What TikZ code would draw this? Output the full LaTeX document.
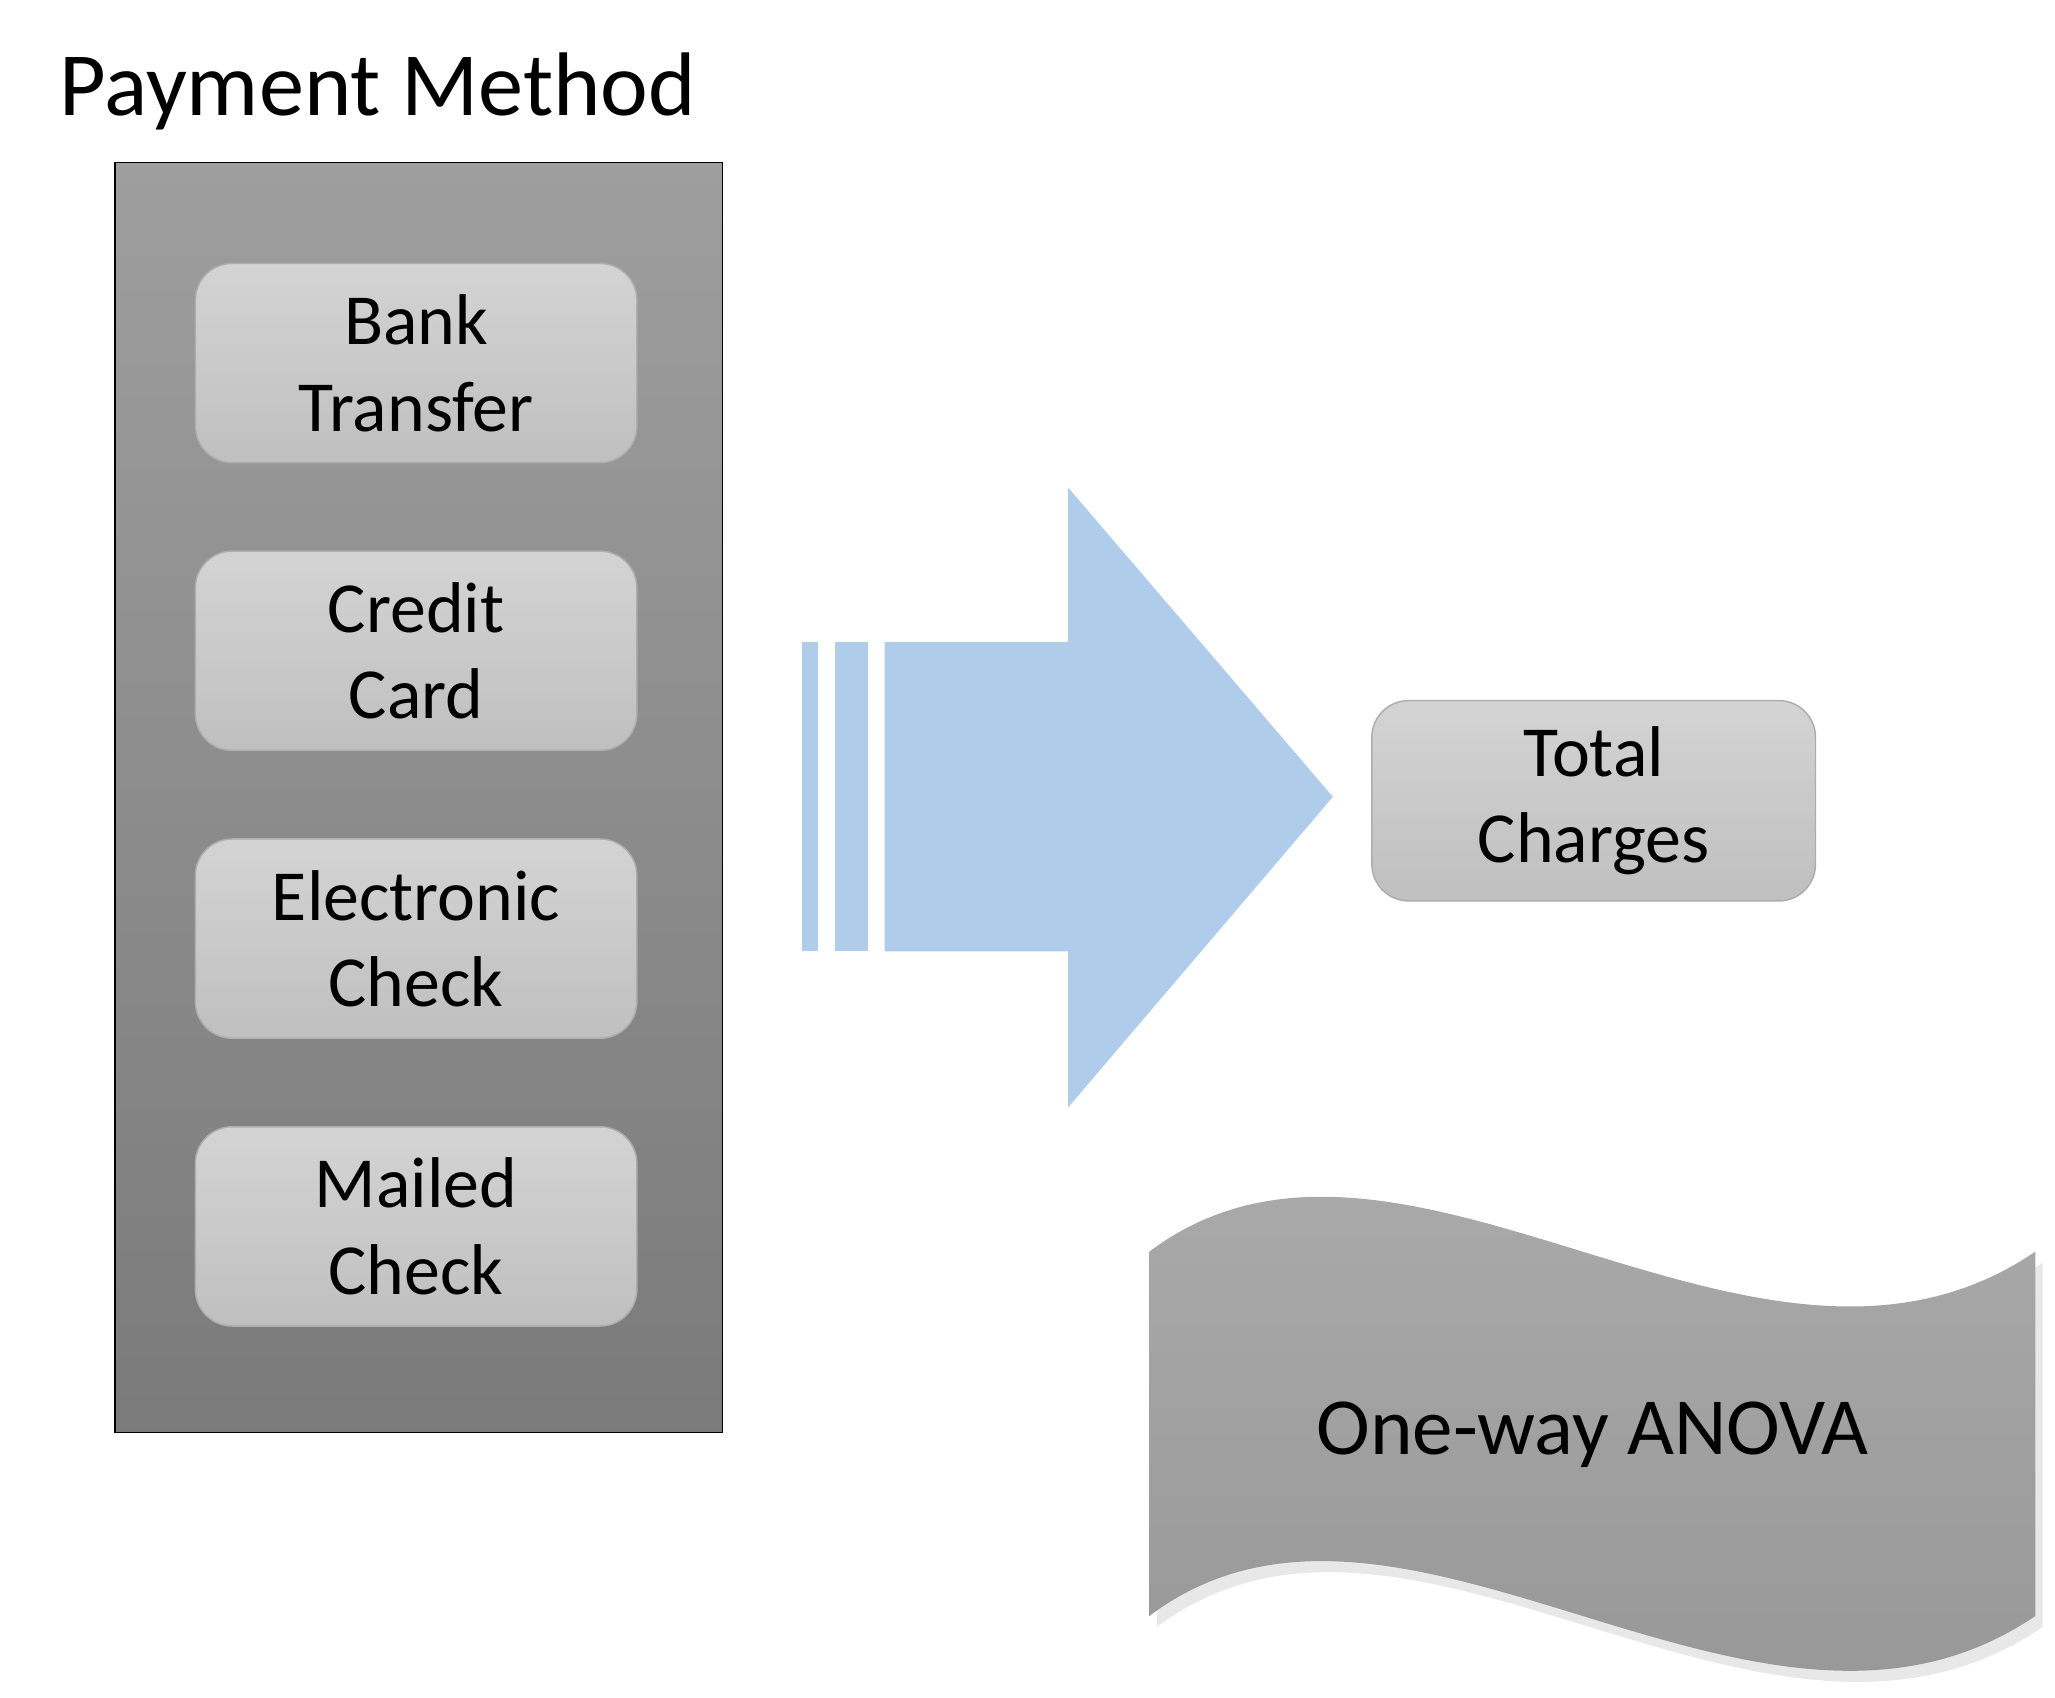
\documentclass[tikz,border=0pt]{standalone}
\usepackage{fontspec}
\setmainfont{Carlito}
\usetikzlibrary{positioning,shadows}
\definecolor{arrowblue}{RGB}{175,205,234}
\tikzset{
  panel/.style = {rectangle, draw=black, thin, top color=black!38, bottom color=black!52,
                  minimum width=5.79cm, minimum height=12.11cm, inner sep=0pt},
  opt/.style   = {rectangle, rounded corners=3.5mm, draw=black!32, top color=black!17,
                  bottom color=black!25, minimum width=4.21cm, minimum height=1.9cm,
                  align=center, inner sep=0pt, font=\fontsize{19.5}{23.5}\selectfont},
  wave/.style  = {top color=black!32, bottom color=black!42,
                  drop shadow={shadow xshift=2pt, shadow yshift=-3pt, opacity=0.18}},
}
\begin{document}
\begin{tikzpicture}[x=0.0125cm, y=-0.0125cm, node distance=0.83cm]
    \useasboundingbox (0,0) rectangle (1568,1295);
    \node[anchor=base west, inner sep=0pt, font=\fontsize{24.5}{29}\selectfont] (title) at (45,88) {Payment Method};
    \node[panel] (panel) at (319.5,608.5) {};
    \node[opt] (bank) at (317.5,277) {Bank\\Transfer};
    \node[opt, below=of bank]   (credit) {Credit\\Card};
    \node[opt, below=of credit] (echeck) {Electronic\\Check};
    \node[opt, below=of echeck] (mcheck) {Mailed\\Check};
    % block arrow
    \fill[arrowblue] (612,490) rectangle (624,726);
    \fill[arrowblue] (637,490) rectangle (662,726);
    \fill[arrowblue] (675,490) -- (815,490) -- (815,372) -- (1017,608) -- (815,845) -- (815,726) -- (675,726) -- cycle;
    \node[opt, minimum width=4.23cm, minimum height=1.91cm] (total) at (1216,611) {Total\\Charges};
    % wave banner
    \path[wave] (877,955) .. controls (1070,810) and (1340,1100) .. (1553,955)
        -- (1553,1233) .. controls (1340,1378) and (1070,1088) .. (877,1233) -- cycle;
    \node[font=\fontsize{22}{26}\selectfont] (anova) at (1215,1095) {One-way ANOVA};
\end{tikzpicture}
\end{document}
